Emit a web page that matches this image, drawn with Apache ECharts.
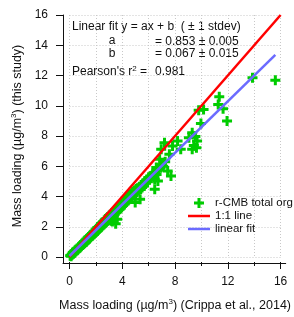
<!DOCTYPE html>
<html>
<head>
<meta charset="utf-8">
<script src="https://cdn.jsdelivr.net/npm/echarts@6/dist/echarts.min.js"></script>
<style>
  html, body { margin: 0; padding: 0; background: #fff; }
  #chart { width: 294px; height: 317px; }
</style>
</head>
<body>
<div id="chart"></div>
<script>
// r-CMB total org vs Crippa et al. (2014), [x, y] in ug/m3
const orgPoints = [
  [0.05, 0.08], [0.1, 0.12], [0.12, 0.05], [0.18, 0.2], [0.2, 0.15], [0.25, 0.3], [0.3, 0.22],
  [0.33, 0.35], [0.4, 0.32], [0.42, 0.41], [0.48, 0.38], [0.5, 0.5], [0.55, 0.44], [0.6, 0.55],
  [0.62, 0.48], [0.7, 0.66], [0.72, 0.58], [0.78, 0.7], [0.8, 0.62], [0.85, 0.8], [0.9, 0.74],
  [0.95, 0.85], [1.0, 0.8], [1.02, 0.95], [1.08, 0.88], [1.12, 1.02], [1.15, 0.92], [1.2, 1.1],
  [1.25, 1.0], [1.3, 1.18], [1.32, 1.08], [1.38, 1.25], [1.42, 1.15], [1.45, 1.32], [1.5, 1.22],
  [1.55, 1.4], [1.6, 1.3], [1.62, 1.45], [1.68, 1.38], [1.72, 1.55], [1.75, 1.42], [1.8, 1.62],
  [1.85, 1.5], [1.88, 1.7], [1.92, 1.58], [1.98, 1.78], [2.0, 1.65], [2.05, 1.85], [2.1, 1.72],
  [2.12, 1.95], [2.18, 1.8], [2.22, 2.0], [2.25, 1.86], [2.3, 2.1], [2.35, 1.95], [2.4, 2.2],
  [2.42, 2.0], [2.48, 2.25], [2.52, 2.1], [2.55, 2.32], [2.6, 2.15], [2.65, 2.4], [2.7, 2.25],
  [2.72, 2.5], [2.78, 2.3], [2.82, 2.55], [2.85, 2.4], [2.9, 2.65], [2.95, 2.45], [3.0, 2.72],
  [3.02, 2.55], [3.08, 2.8], [3.12, 2.6], [3.15, 2.4], [3.2, 2.88], [3.22, 2.68], [3.25, 2.35],
  [3.3, 2.95], [3.35, 2.75], [3.4, 3.0], [3.42, 2.85], [3.48, 3.1], [3.5, 2.2], [3.55, 2.95],
  [3.6, 3.2], [3.62, 2.5], [3.68, 3.05], [3.72, 3.3], [3.78, 3.15], [3.82, 3.4], [3.88, 3.22],
  [3.92, 3.5], [3.98, 3.35], [4.0, 3.6], [4.05, 3.4], [4.1, 3.65], [4.15, 3.5], [4.2, 3.78],
  [4.25, 3.58], [4.3, 3.85], [4.35, 3.68], [4.4, 3.95], [4.45, 3.75], [4.5, 4.05], [4.55, 3.85],
  [4.6, 4.1], [4.65, 3.95], [4.7, 4.2], [4.75, 4.0], [4.8, 4.3], [4.85, 4.1], [4.9, 4.4],
  [4.95, 4.2], [4.98, 3.6], [5.05, 4.5], [5.1, 4.3], [5.15, 4.55], [5.2, 4.4], [5.3, 4.65],
  [5.35, 3.82], [5.4, 4.5], [5.45, 4.75], [5.5, 4.6], [5.55, 4.85], [5.6, 4.81], [5.65, 4.7],
  [5.7, 5.0], [5.8, 4.9], [5.85, 5.1], [5.9, 5.0], [6.0, 5.25], [6.05, 5.1], [6.15, 5.35],
  [6.2, 5.2], [6.3, 5.5], [6.35, 5.35], [6.46, 4.48], [6.46, 5.14], [6.5, 5.6], [6.58, 5.91],
  [6.6, 5.45], [6.7, 5.03], [6.75, 5.75], [6.83, 6.46], [6.9, 5.9], [6.95, 7.12], [7.0, 6.1],
  [7.1, 6.0], [7.2, 7.56], [7.25, 6.3], [7.44, 5.69], [7.57, 6.79], [7.69, 5.36], [7.81, 7.34],
  [8.19, 7.67], [8.43, 7.12], [9.05, 7.89], [9.3, 8.22], [9.54, 7.96], [9.67, 7.67], [9.42, 7.38],
  [9.3, 7.12], [9.62, 7.23], [9.79, 9.71], [9.96, 8.83], [10.16, 9.76], [11.27, 10.09],
  [11.35, 10.6], [11.64, 9.8], [11.94, 8.99], [13.87, 11.85], [15.6, 11.69]
]
const oneToOne = [[0, 0], [16, 16]]
const linearFit = [[0, 0.067], [15.6, 13.37]]
const xTicks = { min: 0, max: 16, interval: 4 }
const yTicks = { min: 0, max: 16, interval: 2 }

const FONT = 'Liberation Sans, Arial, sans-serif'
const plusPath = 'path://M3.5,0H6.5V3.5H10V6.5H6.5V10H3.5V6.5H0V3.5H3.5Z'
// thin bar with invisible corner points so the legend keeps the full box
const lineIcon = 'path://M0,0L0,0ZM0,3.7H22V6.3H0ZM22,10L22,10Z'
const gridLine = { show: true, lineStyle: { color: '#c8c8c8', type: [1, 2], width: 1 } }
const supStyle = { sup: { fontSize: 8, verticalAlign: 'top', padding: [0, 0, 7, 0], fontFamily: FONT } }

const chart = echarts.init(document.getElementById('chart'), null, { renderer: 'canvas' })

const option = {
  backgroundColor: '#fff',
  animation: false,
  textStyle: { fontFamily: FONT },
  grid: [
    { left: 69.5, right: 8.3, top: 15, bottom: 59 },
    // frame grid, only carries the offset axis lines
    { left: 63, right: 8.3, top: 15, bottom: 54 }
  ],
  xAxis: [
    {
      type: 'value',
      gridIndex: 0,
      min: xTicks.min,
      max: xTicks.max,
      interval: xTicks.interval,
      offset: 5,
      axisLine: { show: false, onZero: false },
      axisTick: { show: true, inside: false, length: 7, lineStyle: { color: '#111' } },
      minorTick: { show: true, splitNumber: 2, length: 4, lineStyle: { color: '#111' } },
      splitLine: gridLine,
      minorSplitLine: gridLine,
      axisLabel: { color: '#111', fontSize: 12, margin: 14, fontFamily: FONT },
      name: 'Mass loading (µg/m{sup|3}) (Crippa et al., 2014)',
      nameLocation: 'middle',
      nameGap: 36,
      nameTextStyle: { color: '#111', fontSize: 12.5, fontFamily: FONT, rich: supStyle }
    },
    {
      type: 'value', gridIndex: 1, min: 0, max: 1,
      axisLine: { show: true, onZero: false, lineStyle: { color: '#111', width: 1 } },
      axisTick: { show: false }, axisLabel: { show: false }, splitLine: { show: false }
    }
  ],
  yAxis: [
    {
      type: 'value',
      gridIndex: 0,
      min: yTicks.min,
      max: yTicks.max,
      interval: yTicks.interval,
      offset: 6.5,
      axisLine: { show: false, onZero: false },
      axisTick: { show: true, inside: false, length: 7, lineStyle: { color: '#111' } },
      splitLine: gridLine,
      axisLabel: { color: '#111', fontSize: 12, margin: 15, fontFamily: FONT },
      name: 'Mass loading (µg/m{sup|3}) (this study)',
      nameLocation: 'middle',
      nameGap: 37,
      nameTextStyle: { color: '#111', fontSize: 12.5, fontFamily: FONT, rich: supStyle }
    },
    {
      type: 'value', gridIndex: 1, min: 0, max: 1,
      axisLine: { show: true, onZero: false, lineStyle: { color: '#111', width: 1 } },
      axisTick: { show: false }, axisLabel: { show: false }, splitLine: { show: false }
    }
  ],
  legend: {
    orient: 'vertical',
    left: 183,
    top: 192,
    itemWidth: 22,
    itemHeight: 10,
    itemGap: 1,
    textStyle: { color: '#111', fontSize: 11.5, fontFamily: FONT },
    data: [
      { name: 'r-CMB total org', icon: plusPath },
      { name: '1:1 line', icon: lineIcon },
      { name: 'linear fit', icon: lineIcon }
    ]
  },
  series: [
    {
      name: 'r-CMB total org',
      type: 'scatter',
      xAxisIndex: 0,
      yAxisIndex: 0,
      symbol: plusPath,
      symbolSize: 10,
      clip: false,
      itemStyle: { color: '#00cc00', opacity: 1 },
      data: orgPoints
    },
    {
      name: '1:1 line',
      type: 'line',
      symbol: 'none',
      lineStyle: { color: '#ff0000', width: 2.5 },
      itemStyle: { color: '#ff0000' },
      data: oneToOne
    },
    {
      name: 'linear fit',
      type: 'line',
      symbol: 'none',
      lineStyle: { color: '#6b6bff', width: 2.5 },
      itemStyle: { color: '#6b6bff' },
      data: linearFit
    }
  ],
  graphic: [
    { type: 'text', x: 72, y: 27, style: { text: 'Linear fit y = ax + b  ( ± 1 stdev)', font: '12px ' + FONT, fill: '#111', verticalAlign: 'middle' } },
    { type: 'text', x: 112, y: 41, style: { text: 'a', font: '12px ' + FONT, fill: '#111', align: 'center', verticalAlign: 'middle' } },
    { type: 'text', x: 155, y: 41.5, style: { text: '= 0.853 ± 0.005', font: '12px ' + FONT, fill: '#111', verticalAlign: 'middle' } },
    { type: 'text', x: 112, y: 53.5, style: { text: 'b', font: '12px ' + FONT, fill: '#111', align: 'center', verticalAlign: 'middle' } },
    { type: 'text', x: 155, y: 53.5, style: { text: '= 0.067 ± 0.015', font: '12px ' + FONT, fill: '#111', verticalAlign: 'middle' } },
    {
      type: 'text', x: 72, y: 72,
      style: { text: "Pearson's r{sup|2} =", font: '12px ' + FONT, fill: '#111', verticalAlign: 'middle', rich: supStyle }
    },
    { type: 'text', x: 155, y: 72, style: { text: '0.981', font: '12px ' + FONT, fill: '#111', verticalAlign: 'middle' } }
  ]
}

chart.setOption(option)
window.addEventListener('resize', function() {
  chart.resize()
})
</script>
</body>
</html>
